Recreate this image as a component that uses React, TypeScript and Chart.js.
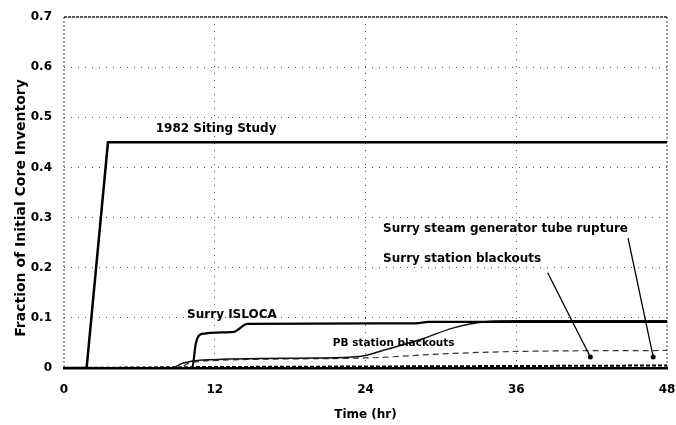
import React, { useEffect, useRef } from "react";
import { Chart, registerables } from "chart.js";

Chart.register(...registerables);

// Time (hr) / fraction values
const sitingTime = [0, 1.8, 3.5, 48];
const sitingFrac = [0, 0, 0.45, 0.45];

const islocaTime = [0, 10.2, 10.5, 11, 13.5, 14.6, 28, 29, 48];
const islocaFrac = [0, 0, 0.05, 0.068, 0.072, 0.088, 0.089, 0.092, 0.092];

const pbTime = [0, 8.5, 9.5, 11, 20, 23.5, 25.5, 28.5, 31, 33.5, 36, 48];
const pbFrac = [0, 0, 0.01, 0.016, 0.02, 0.023, 0.036, 0.058, 0.08, 0.092, 0.094, 0.094];

const surrySboTime = [0, 9, 10, 12, 24, 30, 36, 48];
const surrySboFrac = [0, 0, 0.01, 0.015, 0.02, 0.028, 0.033, 0.035];

const sgtrTime = [0, 12, 24, 36, 48];
const sgtrFrac = [0, 0.002, 0.003, 0.004, 0.005];

const xTicks = [0, 12, 24, 36, 48];
const yTicks = [0, 0.1, 0.2, 0.3, 0.4, 0.5, 0.6, 0.7];

const yTitle = "Fraction of Initial Core Inventory";
const xTitle = "Time (hr)";

const toXY = (t: number[], v: number[]) => t.map((x, i) => ({ x, y: v[i] }));

const FONT = "'DejaVu Sans', 'Liberation Sans', Arial, sans-serif";

const annotPlugin = {
  id: "annot",
  beforeDatasetsDraw(chart: any) {
    const { ctx, chartArea } = chart;
    ctx.save();
    // left axis (dotted) and right/top frame
    ctx.strokeStyle = "#444";
    ctx.lineWidth = 1;
    ctx.setLineDash([2, 2]);
    ctx.beginPath();
    ctx.moveTo(chartArea.left, chartArea.top);
    ctx.lineTo(chartArea.left, chartArea.bottom);
    ctx.moveTo(chartArea.right, chartArea.top);
    ctx.lineTo(chartArea.right, chartArea.bottom);
    ctx.stroke();
    ctx.strokeStyle = "#222";
    ctx.lineWidth = 1.6;
    ctx.setLineDash([3, 1]);
    ctx.beginPath();
    ctx.moveTo(chartArea.left, chartArea.top);
    ctx.lineTo(chartArea.right, chartArea.top);
    ctx.stroke();
    ctx.restore();
  },
  afterDatasetsDraw(chart: any) {
    const { ctx, scales } = chart;
    const xs = scales.x;
    const ys = scales.y;
    const px = (t: number) => xs.getPixelForValue(t);
    const py = (v: number) => ys.getPixelForValue(v);
    ctx.save();
    ctx.fillStyle = "#000";
    ctx.font = `bold 12px ${FONT}`;
    ctx.textBaseline = "middle";
    ctx.textAlign = "left";
    ctx.fillText("1982 Siting Study", px(7.3), py(0.476));
    ctx.fillText("Surry steam generator tube rupture", px(25.4), py(0.278));
    ctx.fillText("Surry station blackouts", px(25.4), py(0.218));
    ctx.fillText("Surry ISLOCA", px(9.8), py(0.105));
    ctx.font = `bold 10.5px ${FONT}`;
    ctx.fillText("PB station blackouts", px(21.4), py(0.05));

    // pointer lines
    ctx.strokeStyle = "#000";
    ctx.lineWidth = 1.3;
    ctx.beginPath();
    ctx.moveTo(px(38.5), py(0.19));
    ctx.lineTo(px(41.9), py(0.022));
    ctx.moveTo(px(44.9), py(0.259));
    ctx.lineTo(px(46.9), py(0.022));
    ctx.stroke();
    ctx.beginPath();
    ctx.arc(px(41.9), py(0.022), 2.5, 0, Math.PI * 2);
    ctx.fill();
    ctx.beginPath();
    ctx.arc(px(46.9), py(0.022), 2.5, 0, Math.PI * 2);
    ctx.fill();

    // y axis title
    ctx.translate(21, 208);
    ctx.rotate(-Math.PI / 2);
    ctx.font = `bold 14px ${FONT}`;
    ctx.textAlign = "center";
    ctx.fillText(yTitle, 0, 0);
    ctx.restore();
  },
};

export default function App() {
  const ref = useRef<HTMLCanvasElement>(null);
  useEffect(() => {
    document.body.style.margin = "0";
    const chart = new Chart(ref.current!, {
      type: "line",
      data: {
        datasets: [
          {
            label: "1982 Siting Study",
            data: toXY(sitingTime, sitingFrac),
            borderColor: "#000",
            borderWidth: 2.5,
            pointRadius: 0,
          },
          {
            label: "Surry ISLOCA",
            data: toXY(islocaTime, islocaFrac),
            borderColor: "#000",
            borderWidth: 2.2,
            pointRadius: 0,
            cubicInterpolationMode: "monotone",
          },
          {
            label: "PB station blackouts",
            data: toXY(pbTime, pbFrac),
            borderColor: "#111",
            borderWidth: 1.5,
            pointRadius: 0,
            cubicInterpolationMode: "monotone",
          },
          {
            label: "Surry station blackouts",
            data: toXY(surrySboTime, surrySboFrac),
            borderColor: "#333",
            borderWidth: 1.2,
            borderDash: [6, 4],
            pointRadius: 0,
            cubicInterpolationMode: "monotone",
          },
          {
            label: "Surry steam generator tube rupture",
            data: toXY(sgtrTime, sgtrFrac),
            borderColor: "#000",
            borderWidth: 2,
            borderDash: [4, 2],
            pointRadius: 0,
          },
        ],
      },
      options: {
        animation: false,
        responsive: true,
        maintainAspectRatio: false,
        layout: { padding: { top: 17, right: 9, left: 0, bottom: 0 } },
        plugins: { legend: { display: false }, tooltip: { enabled: false } },
        scales: {
          x: {
            type: "linear",
            min: 0,
            max: 48,
            afterBuildTicks: (s: any) => {
              s.ticks = xTicks.map((v) => ({ value: v }));
            },
            afterFit: (s: any) => {
              s.height = 57;
              s.paddingLeft = 0;
              s.paddingRight = 0;
            },
            ticks: {
              color: "#000",
              font: { family: FONT, size: 12, weight: "bold" },
              padding: 15,
              maxRotation: 0,
            },
            grid: {
              color: (c: any) => (c.tick && (c.tick.value === 0 || c.tick.value === 48) ? "rgba(0,0,0,0)" : "#555"),
              lineWidth: 1,
              drawTicks: false,
            },
            border: { display: true, color: "#000", width: 2.5, dash: [1, 6] },
            title: {
              display: true,
              text: xTitle,
              color: "#000",
              font: { family: FONT, size: 12, weight: "bold" },
              padding: { top: 0, bottom: 3 },
            },
          },
          y: {
            type: "linear",
            min: 0,
            max: 0.7,
            afterBuildTicks: (s: any) => {
              s.ticks = yTicks.map((v) => ({ value: v }));
            },
            afterFit: (s: any) => {
              s.width = 64;
              s.paddingTop = 0;
              s.paddingBottom = 0;
            },
            ticks: {
              color: "#000",
              font: { family: FONT, size: 12, weight: "bold" },
              padding: 12,
              callback: (v: any) => (v === 0 ? "0" : Number(v).toFixed(1)),
            },
            grid: {
              color: (c: any) => (c.tick && (c.tick.value === 0 || c.tick.value === 0.7) ? "rgba(0,0,0,0)" : "#555"),
              lineWidth: 1,
              drawTicks: false,
            },
            border: { display: false, dash: [1, 6] },
            title: { display: false },
          },
        },
      } as any,
      plugins: [annotPlugin],
    });
    return () => chart.destroy();
  }, []);
  return (
    <div style={{ position: "relative", width: 676, height: 425, background: "#fff" }}>
      <canvas ref={ref} />
    </div>
  );
}
